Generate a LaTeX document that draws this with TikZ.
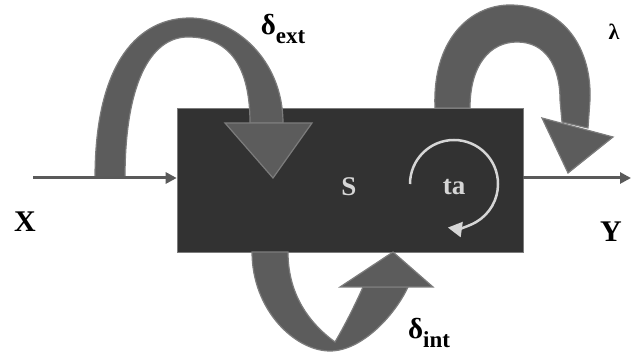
\documentclass[tikz,border=0pt]{standalone}
\usepackage{fontspec}
\setmainfont{Liberation Serif}
\usetikzlibrary{arrows.meta}
\definecolor{boxfill}{HTML}{323232}
\definecolor{bandfill}{HTML}{5C5C5C}
\definecolor{bandedge}{HTML}{7C7C7C}
\definecolor{linecol}{HTML}{5A5A5A}
\definecolor{loopcol}{HTML}{D6D6D6}
\tikzset{
  blackbox/.style={fill=boxfill, draw=bandedge, line width=0.6, minimum width=346, minimum height=144, inner sep=0},
  band/.style={fill=bandfill, draw=bandedge, line width=1.2},
  headtri/.style={fill=bandfill, draw=bandedge, line width=1.2, line join=miter},
  flow/.style={draw=linecol, line width=3, -{Triangle[length=11pt,width=11pt]}},
  lbl/.style={font=\bfseries\fontsize{30}{32}\selectfont, inner sep=0},
  inlbl/.style={font=\bfseries\fontsize{27}{30}\selectfont, text=loopcol, inner sep=0},
  dlbl/.style={font=\bfseries\fontsize{29}{30}\selectfont, inner sep=0},
}
\newcommand{\mysub}[1]{\raisebox{-0.3em}{\fontsize{23}{24}\selectfont #1}}
\begin{document}
\begin{tikzpicture}[x=1pt, y=-1pt]
\useasboundingbox (0,0) rectangle (634,352);
% the system box
\node[blackbox] (box) at (350,180) {};
\node[inlbl] (s) at (349,187) {S};
\node[inlbl] (ta) at (454,187) {ta};
% coordinates
\coordinate (xin) at (33,178);
\coordinate (yout) at (631,178);
% delta ext
\coordinate (extA) at (95,178);
\coordinate (extB) at (125,178);
\coordinate (extL) at (225,123);
\coordinate (extR) at (312,123);
\coordinate (extT) at (273,178);
% lambda
\coordinate (lamA) at (435,108);
\coordinate (lamB) at (470,108);
\coordinate (lamL) at (542,118);
\coordinate (lamR) at (613,137);
\coordinate (lamT) at (568,173);
% delta int
\coordinate (intA) at (252,252);
\coordinate (intB) at (288,252);
\coordinate (intL) at (340,287);
\coordinate (intR) at (433,287);
\coordinate (intT) at (393,252);
% delta ext band
\filldraw[band] (extA) .. controls (95,60) and (140,18) .. (190,18)
   .. controls (235,18) and (283,60) .. (283,123) -- (250,123)
   .. controls (250,70) and (232,37) .. (188,37)
   .. controls (150,37) and (125,85) .. (extB) -- cycle;
\draw[headtri] (extL) -- (extR) -- (extT) -- cycle;
% lambda band
\filldraw[band] (lamA) .. controls (432,40) and (470,5) .. (510,5)
   .. controls (565,5) and (592,50) .. (590,100) -- (588,128) -- (562,122) -- (560,100)
   .. controls (560,65) and (545,42) .. (517,42)
   .. controls (490,42) and (470,65) .. (lamB) -- cycle;
\draw[headtri] (lamL) -- (lamR) -- (lamT) -- cycle;
% delta int band
\filldraw[band] (intA) .. controls (252,310) and (295,351) .. (330,351)
   .. controls (362,351) and (395,315) .. (408,287) -- (363,287)
   .. controls (355,305) and (345,325) .. (335,342)
   .. controls (305,320) and (288,290) .. (intB) -- cycle;
\draw[headtri] (intL) -- (intR) -- (intT) -- cycle;
% input / output
\draw[flow] (xin) -- (box.west |- xin);
\draw[flow] (box.east |- yout) -- (yout);
% ta loop
\draw[draw=loopcol, line width=2.5, -{Triangle[length=14pt,width=15pt]}] (410,184) arc[start angle=180, end angle=458, radius=44];
% labels
\node[lbl] (xl) at (25,222) {X};
\node[lbl] (yl) at (611,232) {Y};
\node[dlbl] (dext) at (283,29) {δ\mysub{ext}};
\node[font=\bfseries\fontsize{22}{24}\selectfont, inner sep=0] (lam) at (614,32) {λ};
\node[dlbl] (dint) at (429,333) {δ\mysub{int}};
\end{tikzpicture}
\end{document}
